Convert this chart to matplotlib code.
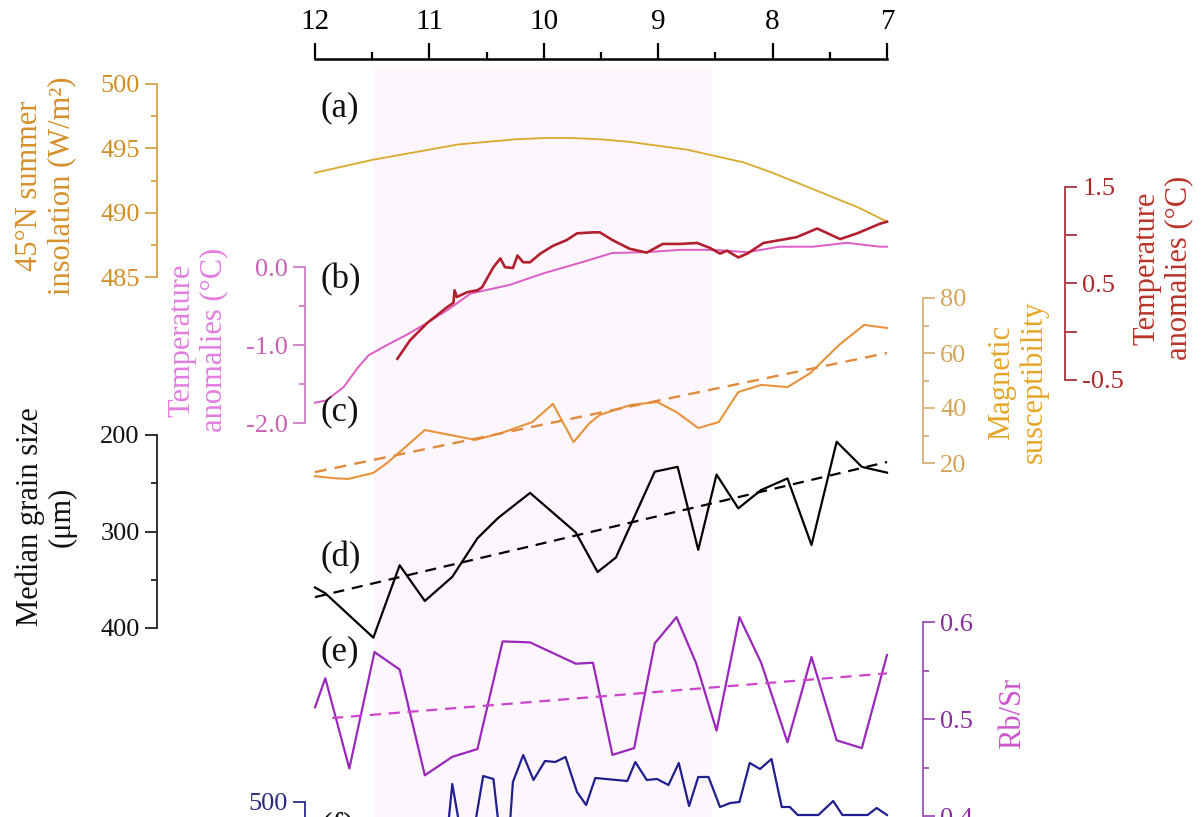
import matplotlib
matplotlib.use("Agg")
import matplotlib.pyplot as plt
from matplotlib.ticker import MultipleLocator

plt.rcParams['font.family'] = ['Liberation Serif', 'DejaVu Serif']
plt.rcParams['axes.unicode_minus'] = False

# ---------------- data ----------------
age_ticks = [12, 11, 10, 9, 8, 7]
shade_span = [11.48, 8.53]

ins_age = [12.0, 11.75, 11.5, 11.25, 11.0, 10.75, 10.5, 10.25, 10.0, 9.75, 9.5, 9.25, 9.0,
           8.75, 8.5, 8.25, 8.0, 7.75, 7.5, 7.25, 7.0]
ins_val = [493.1, 493.6, 494.1, 494.5, 494.9, 495.3, 495.5, 495.7, 495.8, 495.8, 495.7, 495.5,
           495.2, 494.9, 494.4, 493.9, 493.1, 492.2, 491.3, 490.4, 489.3]

pink_age = [12.0, 11.9, 11.75, 11.62, 11.53, 11.37, 11.2, 11.0, 10.84, 10.64, 10.3, 10.0,
            9.67, 9.4, 9.1, 8.81, 8.52, 8.22, 7.94, 7.65, 7.35, 7.06, 7.0]
pink_val = [-1.74, -1.71, -1.54, -1.28, -1.13, -1.0, -0.87, -0.70, -0.55, -0.34, -0.23, -0.08,
            0.06, 0.18, 0.19, 0.22, 0.22, 0.19, 0.26, 0.26, 0.31, 0.26, 0.26]

red_age = [11.28, 11.17, 11.02, 10.85, 10.79, 10.78, 10.76, 10.67, 10.58, 10.54, 10.44, 10.38,
           10.34, 10.27, 10.23, 10.18, 10.12, 10.03, 9.92, 9.80, 9.71, 9.57, 9.51, 9.40, 9.25,
           9.10, 8.96, 8.81, 8.66, 8.55, 8.46, 8.40, 8.30, 8.22, 8.08, 7.79, 7.61, 7.41, 7.26,
           7.06, 7.0]
red_val = [-0.28, -0.09, 0.09, 0.25, 0.30, 0.43, 0.36, 0.41, 0.43, 0.46, 0.67, 0.76,
           0.67, 0.66, 0.79, 0.72, 0.72, 0.81, 0.89, 0.95, 1.02, 1.03, 1.03, 0.95, 0.86,
           0.82, 0.91, 0.91, 0.92, 0.87, 0.81, 0.84, 0.77, 0.81, 0.92, 0.98, 1.07, 0.96, 1.02,
           1.12, 1.14]

ms_age = [12.0, 11.84, 11.71, 11.49, 11.37, 11.24, 11.04, 10.60, 10.37, 10.10, 9.92, 9.74,
          9.60, 9.51, 9.24, 9.01, 8.84, 8.65, 8.47, 8.30, 8.10, 7.87, 7.67, 7.42, 7.20, 7.0]
ms_val = [15.2, 14.5, 14.2, 16.4, 20.0, 24.7, 32.0, 28.4, 30.9, 34.9, 41.5, 27.6,
          34.5, 37.5, 41.1, 42.2, 38.5, 32.7, 34.9, 45.8, 48.4, 47.6, 52.7, 62.9, 70.2, 69.1]
ms_trend_age = [12.0, 7.0]
ms_trend_val = [16.7, 60.0]

gs_age = [12.0, 11.91, 11.49, 11.26, 11.04, 10.80, 10.58, 10.40, 10.12, 9.72, 9.53, 9.37,
          9.03, 8.83, 8.65, 8.49, 8.30, 8.10, 7.87, 7.66, 7.44, 7.22, 7.0]
gs_val = [358, 364, 410, 335, 372, 347, 307, 286, 260, 301, 342, 327,
          238, 233, 319, 241, 276, 257, 245, 314, 207, 233, 239]
gs_trend_age = [12.0, 7.0]
gs_trend_val = [368, 228]

rb_age = [12.0, 11.91, 11.70, 11.48, 11.26, 11.04, 10.80, 10.58, 10.36, 10.12, 9.72, 9.57,
          9.40, 9.21, 9.03, 8.84, 8.67, 8.49, 8.29, 8.10, 7.87, 7.66, 7.44, 7.22, 7.0]
rb_val = [0.512, 0.542, 0.449, 0.569, 0.551, 0.442, 0.461, 0.469, 0.580, 0.579, 0.557, 0.558,
          0.463, 0.470, 0.578, 0.605, 0.558, 0.488, 0.605, 0.558, 0.476, 0.564, 0.478, 0.470, 0.566]
rb_trend_age = [11.85, 7.0]
rb_trend_val = [0.501, 0.547]

blue_age = [10.84, 10.80, 10.73, 10.61, 10.53, 10.44, 10.39, 10.30, 10.27, 10.18, 10.09, 9.99,
            9.90, 9.81, 9.71, 9.63, 9.55, 9.27, 9.20, 9.10, 9.01, 8.91, 8.82, 8.73, 8.65,
            8.56, 8.46, 8.37, 8.29, 8.20, 8.11, 8.01, 7.92, 7.85, 7.78, 7.60, 7.47, 7.39,
            7.17, 7.09, 7.0]
blue_val = [444, 536, 444, 444, 552, 546, 444, 444, 540, 594, 544, 582,
            580, 590, 520, 494, 548, 542, 580, 544, 546, 534, 578, 492, 550,
            550, 490, 498, 500, 578, 566, 586, 490, 490, 474, 474, 502, 474,
            474, 488, 474]

panel_letters = ['(a)', '(b)', '(c)', '(d)', '(e)', '(f)']

# ---------------- layout helpers ----------------
W, H = 1203, 817
X0, X1 = 315, 887
fig = plt.figure(figsize=(W / 100, H / 100), dpi=100)
fig.patch.set_facecolor('white')


def add_panel(y_top, y_bot):
    ax = fig.add_axes([X0 / W, 1 - y_bot / H, (X1 - X0) / W, (y_bot - y_top) / H])
    ax.patch.set_visible(False)
    ax.set_xlim(12, 7)
    for s in ax.spines.values():
        s.set_visible(False)
    ax.set_xticks([])
    return ax


def style_y(ax, side, spine_x, color, labcolor, major, minor, labels=None,
            minor_len=4.5, lsize=19):
    sp = ax.spines[side]
    sp.set_visible(True)
    sp.set_position(('axes', (spine_x - X0) / (X1 - X0)))
    sp.set_color(color)
    sp.set_linewidth(1.3)
    ax.yaxis.set_ticks_position(side)
    if labels is None:
        ax.set_yticks(major)
    else:
        ax.set_yticks(major, labels=labels)
    ax.set_yticks(minor, minor=True)
    ax.tick_params(axis='y', which='both', direction='out', color=color,
                   labelcolor=labcolor, labelsize=lsize, pad=4)
    ax.tick_params(axis='y', which='major', length=8.5, width=1.3)
    ax.tick_params(axis='y', which='minor', length=minor_len, width=1.3)


def ylabel(x, y, text, color, size=22):
    fig.text(x / W, 1 - y / H, text, rotation=90, ha='center', va='center',
             multialignment='center', color=color, fontsize=size, linespacing=1.15)


# ---------------- background / top age axis ----------------
bg = fig.add_axes([X0 / W, 0, (X1 - X0) / W, 1 - 59 / H])
bg.patch.set_visible(False)
bg.set_xlim(12, 7)
bg.set_ylim(0, 1)
bg.axvspan(shade_span[0], shade_span[1], ymin=0, ymax=0.99, color='#fdf6fc', lw=0, zorder=0)
for s in ['left', 'right', 'bottom']:
    bg.spines[s].set_visible(False)
bg.spines['top'].set_linewidth(1.8)
bg.xaxis.set_ticks_position('top')
bg.set_xticks(age_ticks, labels=[str(a) for a in age_ticks])
bg.xaxis.set_minor_locator(MultipleLocator(0.5))
bg.tick_params(axis='x', which='major', direction='out', length=11.5, width=1.6,
               labelsize=21, pad=6)
bg.tick_params(axis='x', which='minor', direction='out', length=5, width=1.6)
bg.set_yticks([])

# ---------------- (a) insolation ----------------
ax_a = add_panel(84, 277)
ax_a.set_ylim(485, 500)
ax_a.plot(ins_age, ins_val, color='#d9aa2c', lw=1.3, clip_on=False)
style_y(ax_a, 'left', 157, '#d3a24a', '#d18e25', [485, 490, 495, 500],
        [487.5, 492.5, 497.5])
ylabel(46, 186, '45°N summer\ninsolation (W/m²)', '#d68f2a')

# ---------------- (b) temperature anomalies ----------------
ax_b = add_panel(267, 423)
ax_b.set_ylim(-2.0, 0.0)
ax_b.plot(pink_age, pink_val, color='#dd5cc6', lw=1.4, clip_on=False)
style_y(ax_b, 'left', 305, '#cf7cc6', '#c662b2', [-2.0, -1.0, 0.0], [-1.5, -0.5],
        labels=['-2.0', '-1.0', '0.0'])
ylabel(198, 340, 'Temperature\nanomalies (°C)', '#e27de0')

ax_r = add_panel(187, 380)
ax_r.set_ylim(-0.5, 1.5)
ax_r.plot(red_age, red_val, color='#b21f2e', lw=1.9, clip_on=False)
style_y(ax_r, 'right', 1065, '#a8333c', '#a82a2a', [-0.5, 0.5, 1.5], [0.0, 1.0],
        labels=['-0.5', '0.5', '1.5'], minor_len=8.5)
ylabel(1163, 268, 'Temperature\nanomalies (°C)', '#b8342a')

# ---------------- (c) magnetic susceptibility ----------------
ax_c = add_panel(298, 463)
ax_c.set_ylim(20, 80)
ax_c.plot(ms_age, ms_val, color='#e8933c', lw=1.5, clip_on=False)
ax_c.plot(ms_trend_age, ms_trend_val, color='#e08a3a', lw=1.7, ls=(0, (5, 3.5)),
          clip_on=False)
style_y(ax_c, 'right', 923, '#d8b274', '#d6a456', [20, 40, 60, 80], [30, 50, 70])
ylabel(1018, 382, 'Magnetic\nsusceptibility', '#e6a526')

# ---------------- (d) median grain size ----------------
ax_d = add_panel(435, 628)
ax_d.set_ylim(400, 200)
ax_d.plot(gs_age, gs_val, color='black', lw=1.6, clip_on=False)
ax_d.plot(gs_trend_age, gs_trend_val, color='black', lw=1.6, ls=(0, (5, 3.5)),
          clip_on=False)
style_y(ax_d, 'left', 157, '#222222', '#111111', [200, 300, 400], [250, 350])
ylabel(46, 517, 'Median grain size\n(μm)', '#111111')

# ---------------- (e) Rb/Sr ----------------
ax_e = add_panel(622, 816)
ax_e.set_ylim(0.4, 0.6)
ax_e.plot(rb_age, rb_val, color='#9a28bc', lw=1.6, clip_on=False)
ax_e.plot(rb_trend_age, rb_trend_val, color='#cc44cc', lw=1.6, ls=(0, (5, 3.5)),
          clip_on=False)
style_y(ax_e, 'right', 923, '#9c52b6', '#8a2aa0', [0.4, 0.5, 0.6], [0.45, 0.55],
        labels=['0.4', '0.5', '0.6'])
ylabel(1013, 713, 'Rb/Sr', '#cc55cc')

# ---------------- (f) blue series (cut off at the bottom) ----------------
ax_f = add_panel(802, 1052)
ax_f.set_ylim(0, 500)
ax_f.plot(blue_age, blue_val, color='#1f1f8e', lw=1.6, clip_on=False)
style_y(ax_f, 'left', 305, '#2a2a88', '#2a2a80', [500], [450])

# ---------------- panel letters ----------------
letter_y = [108, 280, 412, 558, 652, 828]
for lab, yy in zip(panel_letters, letter_y):
    fig.text(320 / W, 1 - yy / H, lab, ha='left', va='center', fontsize=25, color='#111111')

fig.savefig('out.png', dpi=100, facecolor='white')
